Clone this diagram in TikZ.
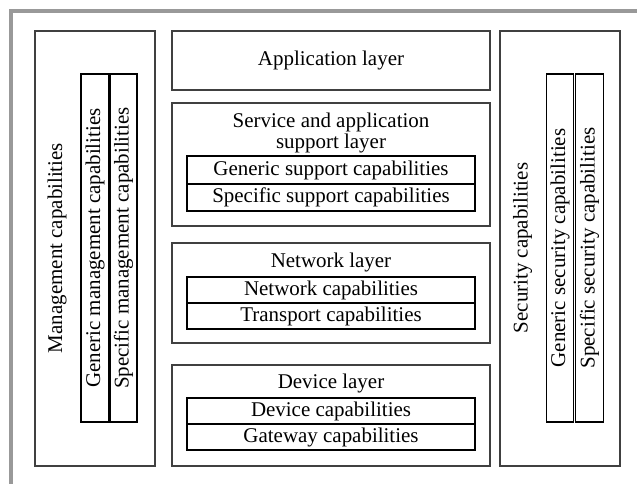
\documentclass[tikz,border=0pt]{standalone}
\usepackage{fontspec}
\setmainfont{Liberation Serif}
\tikzset{
  layerbox/.style={draw=black!75, line width=0.9pt},
  capbox/.style={draw=black, line width=1.3pt},
  lbl/.style={font=\fontsize{14.9}{15}\selectfont, inner sep=0pt, align=center},
}

\begin{document}
\begin{tikzpicture}[x=0.025cm, y=-0.025cm]
		%%%%% FRAME %%%%%
		\useasboundingbox (0, 0) rectangle (637, 484);
		\draw[line width=2.8pt, color=black!40] (11, 484) -- (11, 11) -- (637, 11);
		
		%%%%% MANAGEMENT %%%%%
		\draw[layerbox] (35, 31) rectangle (155, 466);
		\node[lbl, rotate=90] (mgmt) at (57, 248) {Management capabilities};
		\draw[capbox] (81, 74) rectangle (108.5, 422);
		\draw[capbox] (110, 74) rectangle (137, 422);
		\node[lbl, rotate=90] (genmgmt) at (95, 248) {Generic management capabilities};
		\node[lbl, rotate=90] (specmgmt) at (123.5, 248) {Specific management capabilities};
		
		%%%%% LAYERS %%%%%
		\draw[layerbox] (172, 31) rectangle (490, 90);
		\node[lbl] (app) at (331, 60.5) {Application layer};
		
		\draw[layerbox] (172, 103) rectangle (490, 226);
		\node[lbl] (sasl) at (331, 133) {Service and application\\support layer};
		\draw[capbox] (187, 156) rectangle (475, 184);
		\draw[capbox] (187, 184) rectangle (475, 211);
		\node[lbl] (gensup) at (331, 170) {Generic support capabilities};
		\node[lbl] (specsup) at (331, 197.5) {Specific support capabilities};
		
		\draw[layerbox] (172, 243) rectangle (490, 343);
		\node[lbl] (net) at (331, 262) {Network layer};
		\draw[capbox] (187, 277) rectangle (475, 303);
		\draw[capbox] (187, 303) rectangle (475, 329);
		\node[lbl] (netcap) at (331, 290) {Network capabilities};
		\node[lbl] (transcap) at (331, 316) {Transport capabilities};
		
		\draw[layerbox] (172, 365) rectangle (490, 466);
		\node[lbl] (dev) at (331, 383.5) {Device layer};
		\draw[capbox] (187, 398) rectangle (475, 424);
		\draw[capbox] (187, 424) rectangle (475, 450);
		\node[lbl] (devcap) at (331, 411) {Device capabilities};
		\node[lbl] (gwcap) at (331, 437) {Gateway capabilities};
		
		%%%%% SECURITY %%%%%
		\draw[layerbox] (500, 31) rectangle (620, 466);
		\node[lbl, rotate=90] (sec) at (522.5, 248) {Security capabilities};
		\draw[capbox] (546.5, 74) rectangle (573.5, 422);
		\draw[capbox] (575.5, 74) rectangle (603.5, 422);
		\node[lbl, rotate=90] (gensec) at (560, 248) {Generic security capabilities};
		\node[lbl, rotate=90] (specsec) at (589.5, 248) {Specific security capabilities};
		
		%%%%% END %%%%%
\end{tikzpicture}
\end{document}
